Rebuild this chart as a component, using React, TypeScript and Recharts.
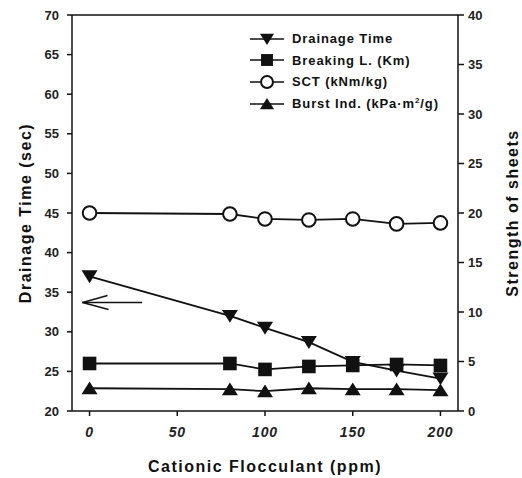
import { LineChart, Line, XAxis, YAxis, ReferenceLine } from 'recharts';

// Cationic flocculant dose (ppm)
const doses = [0, 80, 100, 125, 150, 175, 200];
// Drainage time (sec), left axis
const drainageTime = [37.0, 32.0, 30.5, 28.7, 26.2, 25.1, 24.1];
// Strength values, right axis
const breakingLength = [4.8, 4.8, 4.2, 4.5, 4.6, 4.7, 4.6];
const sct = [20.0, 19.9, 19.4, 19.3, 19.4, 18.9, 19.0];
const burstIndex = [2.3, 2.2, 2.0, 2.3, 2.2, 2.2, 2.1];

const xTicks = [0, 50, 100, 150, 200];
const leftTicks = [20, 25, 30, 35, 40, 45, 50, 55, 60, 65, 70];
const rightTicks = [0, 5, 10, 15, 20, 25, 30, 35, 40];

const seriesNames = ['Drainage Time', 'Breaking L. (Km)', 'SCT (kNm/kg)', 'Burst Ind. (kPa·m²/g)'];

const chartData = doses.map((d, i) => ({
  dose: d,
  drainage: drainageTime[i],
  breaking: breakingLength[i],
  sct: sct[i],
  burst: burstIndex[i],
}));

const INK = '#111';
const FONT = '"Liberation Sans", Arial, sans-serif';

// marker shapes
const Marker = ({ kind, cx, cy, r = 8 }: { kind: string; cx: number; cy: number; r?: number }) => {
  if (kind === 'down')
    return <path d={`M${cx - r},${cy - r * 0.75} L${cx + r},${cy - r * 0.75} L${cx},${cy + r * 0.85} Z`} fill={INK} />;
  if (kind === 'up')
    return <path d={`M${cx - r},${cy + r * 0.75} L${cx + r},${cy + r * 0.75} L${cx},${cy - r * 0.85} Z`} fill={INK} />;
  if (kind === 'square')
    return <rect x={cx - r * 0.85} y={cy - r * 0.85} width={r * 1.7} height={r * 1.7} fill={INK} />;
  return <circle cx={cx} cy={cy} r={r * 0.85} fill="#fff" stroke={INK} strokeWidth={2} />;
};

const dotFor = (kind: string) => (props: any) => {
  const { cx, cy, index } = props;
  if (cx == null || cy == null) return <g key={index} />;
  return <Marker key={`${kind}-${index}`} kind={kind} cx={cx} cy={cy} />;
};

const legendKinds = ['down', 'square', 'circle', 'up'];

const LegendBox = () => (
  <div
    style={{
      position: 'absolute',
      left: 249,
      top: 28,
      fontFamily: FONT,
      fontWeight: 'bold',
      fontSize: 13,
      letterSpacing: 0.9,
      color: INK,
      lineHeight: 1,
    }}
  >
    {seriesNames.map((name, i) => (
      <div key={name} style={{ display: 'flex', alignItems: 'center', height: 21.6 }}>
        <svg width={36} height={18}>
          <line x1={1} y1={9} x2={35} y2={9} stroke={INK} strokeWidth={1.5} />
          <Marker kind={legendKinds[i]} cx={18} cy={9} r={7} />
        </svg>
        <span style={{ marginLeft: 7 }}>
          {i === 3 ? (
            <>
              Burst Ind. (kPa·m<sup style={{ fontSize: 8 }}>2</sup>/g)
            </>
          ) : (
            name
          )}
        </span>
      </div>
    ))}
  </div>
);

const ArrowShape = (props: any) => {
  const { x1, y1, x2 } = props;
  const left = Math.min(x1, x2);
  const right = Math.max(x1, x2);
  return (
    <g stroke={INK} strokeWidth={1.5} fill="none">
      <line x1={left} y1={y1} x2={right} y2={y1} />
      <line x1={left} y1={y1} x2={left + 25} y2={y1 - 7} />
      <line x1={left} y1={y1} x2={left + 26} y2={y1 + 7} />
    </g>
  );
};

const labelStyle = { fontFamily: FONT, fontWeight: 'bold' as const, fontSize: 16, letterSpacing: 1.5, fill: INK };

// axis title renderer, placed relative to the axis box
const axisTitle = (text: string, dx: number, dy: number, vertical: boolean) => (props: any) => {
  const vb = props.viewBox || {};
  const x = vertical ? vb.x + dx : vb.x + vb.width / 2;
  const y = vertical ? vb.y + vb.height / 2 : vb.y + dy;
  return (
    <text
      x={x}
      y={y}
      textAnchor="middle"
      dominantBaseline="central"
      transform={vertical ? `rotate(-90 ${x} ${y})` : undefined}
      style={labelStyle}
    >
      {text}
    </text>
  );
};

const tickStyle = { fontFamily: FONT, fontWeight: 'bold', fontSize: 13, fill: '#222' };

export default function App() {
  return (
    <div style={{ position: 'absolute', left: 0, top: 0, width: 522, height: 478, background: '#fff' }}>
      <LineChart width={522} height={478} data={chartData} margin={{ top: 15, right: 0, bottom: 0, left: 0 }}>
        <XAxis
          dataKey="dose"
          type="number"
          domain={[-10, 210]}
          ticks={xTicks}
          tickSize={5}
          tickMargin={11}
          height={67}
          stroke={INK}
          strokeWidth={1.5}
          tick={{ ...tickStyle, fontSize: 14, letterSpacing: 0.8, fontStyle: 'italic' }}
          label={{ content: axisTitle('Cationic Flocculant (ppm)', 0, 55, false) }}
        />
        <YAxis
          yAxisId="left"
          domain={[20, 70]}
          ticks={leftTicks}
          width={72}
          tickSize={5}
          tickMargin={8}
          stroke={INK}
          strokeWidth={1.5}
          tick={tickStyle}
          label={{ content: axisTitle('Drainage Time (sec)', 25, 0, true) }}
        />
        <YAxis
          yAxisId="right"
          orientation="right"
          domain={[0, 40]}
          ticks={rightTicks}
          width={64}
          tickSize={6}
          tickMargin={4}
          stroke={INK}
          strokeWidth={1.5}
          tick={tickStyle}
          label={{ content: axisTitle('Strength of sheets', 54, 0, true) }}
        />
        <ReferenceLine yAxisId="left" y={70} stroke={INK} strokeWidth={1.5} />
        <ReferenceLine
          yAxisId="left"
          segment={[{ x: -4, y: 33.7 }, { x: 30, y: 33.7 }]}
          shape={<ArrowShape />}
          ifOverflow="visible"
        />
        <Line yAxisId="left" dataKey="drainage" name={seriesNames[0]} stroke={INK} strokeWidth={1.8} dot={dotFor('down')} isAnimationActive={false} />
        <Line yAxisId="right" dataKey="breaking" name={seriesNames[1]} stroke={INK} strokeWidth={1.8} dot={dotFor('square')} isAnimationActive={false} />
        <Line yAxisId="right" dataKey="sct" name={seriesNames[2]} stroke={INK} strokeWidth={1.8} dot={dotFor('circle')} isAnimationActive={false} />
        <Line yAxisId="right" dataKey="burst" name={seriesNames[3]} stroke={INK} strokeWidth={1.8} dot={dotFor('up')} isAnimationActive={false} />
      </LineChart>
      <LegendBox />
    </div>
  );
}
